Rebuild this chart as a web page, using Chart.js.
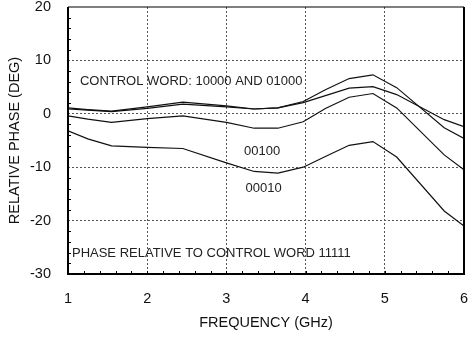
<!DOCTYPE html>
<html>
<head>
<meta charset="utf-8">
<script src="https://cdn.jsdelivr.net/npm/chart.js@4/dist/chart.umd.min.js"></script>
<style>
  html, body { margin: 0; padding: 0; background: #fff; }
  #wrap { width: 474px; height: 337px; }
</style>
</head>
<body>
<div id="wrap"><canvas id="myChart" width="474" height="337"></canvas></div>
<script>
// frequency points (GHz)
const freq = [1.0, 1.25, 1.55, 2.0, 2.45, 3.0, 3.35, 3.65, 3.97, 4.25, 4.55, 4.85, 5.15, 5.75, 6.0];
// relative phase (deg) per control word
const word10000 = [1.1, 0.8, 0.5, 1.3, 2.2, 1.5, 0.9, 1.1, 2.3, 4.5, 6.6, 7.3, 4.9, -2.6, -4.6];
const word01000 = [0.9, 0.7, 0.4, 1.0, 1.8, 1.3, 0.9, 1.1, 2.1, 3.4, 4.8, 5.1, 3.6, -1.1, -2.4];
const word00100 = [-0.4, -1.0, -1.6, -0.9, -0.4, -1.6, -2.7, -2.7, -1.5, 1.0, 3.1, 3.8, 1.1, -7.7, -10.5];
const word00010 = [-3.2, -4.7, -6.0, -6.3, -6.5, -9.2, -10.8, -11.1, -10.0, -8.0, -5.9, -5.2, -8.1, -18.2, -21.0];

const xTicks = [1, 2, 3, 4, 5, 6];
const yTicks = [-30, -20, -10, 0, 10, 20];

// text notes inside the plot: [text, x, y, align]
const notes = [
    ['CONTROL WORD: 10000 AND 01000', 1.15, 6.0, 'left'],
    ['00100', 3.45, -7.1, 'center'],
    ['00010', 3.47, -14.0, 'center'],
    ['PHASE RELATIVE TO CONTROL WORD 11111', 1.05, -26.2, 'left']
];

const font = "'Liberation Sans', Arial, sans-serif";

function toPoints(ys) {
    return freq.map((f, i) => ({ x: f, y: ys[i] }));
}

function lineSet(label, ys) {
    return {
        label: label,
        data: toPoints(ys),
        borderColor: '#111',
        borderWidth: 1.2,
        pointRadius: 0,
        tension: 0,
        fill: false
    };
}

// no extra room for overhanging tick labels
function noOverhang(s) {
    s.paddingTop = 0;
    s.paddingBottom = 0;
    s.paddingLeft = 0;
    s.paddingRight = 0;
}

// frame, minor ticks and text notes
const extras = {
    id: 'extras',
    afterDatasetsDraw(chart) {
        const c = chart.ctx;
        const a = chart.chartArea;
        const xs = chart.scales.x;
        const ys = chart.scales.y;
        c.save();
        c.strokeStyle = '#000';
        // minor ticks, inside
        c.lineWidth = 1;
        for (let v = -28; v < 20; v += 2) {
            if (v % 10 === 0) continue;
            const p = Math.round(ys.getPixelForValue(v)) + 0.5;
            c.beginPath();
            c.moveTo(a.left, p);
            c.lineTo(a.left + 3, p);
            c.stroke();
        }
        for (let v = 1.2; v < 6; v += 0.2) {
            const p = Math.round(xs.getPixelForValue(v)) + 0.5;
            c.beginPath();
            c.moveTo(p, a.bottom);
            c.lineTo(p, a.bottom - 3);
            c.stroke();
        }
        // frame
        c.lineWidth = 1.2;
        c.beginPath();
        c.moveTo(a.left, a.top);
        c.lineTo(a.right, a.top);
        c.stroke();
        c.lineWidth = 2;
        c.beginPath();
        c.moveTo(a.left, a.top);
        c.lineTo(a.left, a.bottom);
        c.lineTo(a.right, a.bottom);
        c.lineTo(a.right, a.top);
        c.stroke();
        // notes
        c.fillStyle = '#222';
        c.font = '13px ' + font;
        c.textBaseline = 'middle';
        notes.forEach(n => {
            c.textAlign = n[3];
            c.fillText(n[0], xs.getPixelForValue(n[1]), ys.getPixelForValue(n[2]));
        });
        c.restore();
    }
};

const config = {
    type: 'line',
    data: {
        datasets: [
            lineSet('10000', word10000),
            lineSet('01000', word01000),
            lineSet('00100', word00100),
            lineSet('00010', word00010)
        ]
    },
    options: {
        responsive: false,
        animation: false,
        layout: { padding: { top: 7, right: 10, left: 0, bottom: 0 } },
        plugins: { legend: { display: false }, tooltip: { enabled: false } },
        scales: {
            x: {
                type: 'linear',
                min: 1,
                max: 6,
                afterBuildTicks: s => { s.ticks = xTicks.map(v => ({ value: v })); },
                afterFit: s => { s.height = 63; noOverhang(s); },
                grid: {
                    color: ctx => (ctx.tick.value === 1 || ctx.tick.value === 6) ? 'transparent' : '#555',
                    lineWidth: 1,
                    drawTicks: false
                },
                border: { display: false, dash: [2, 2] },
                ticks: {
                    padding: 16,
                    color: '#111',
                    maxRotation: 0,
                    font: { family: font, size: 14.5 }
                },
                title: {
                    display: true,
                    text: 'FREQUENCY (GHz)',
                    color: '#111',
                    font: { family: font, size: 14.5 },
                    padding: { top: 0, bottom: 5 }
                }
            },
            y: {
                type: 'linear',
                min: -30,
                max: 20,
                afterBuildTicks: s => { s.ticks = yTicks.map(v => ({ value: v })); },
                afterFit: s => { s.width = 68; noOverhang(s); },
                grid: {
                    color: ctx => (ctx.tick.value === -30 || ctx.tick.value === 20) ? 'transparent' : '#555',
                    lineWidth: 1,
                    drawTicks: false
                },
                border: { display: false, dash: [2, 2] },
                ticks: {
                    padding: 17,
                    color: '#111',
                    font: { family: font, size: 14.5 }
                },
                title: {
                    display: true,
                    text: 'RELATIVE PHASE (DEG)',
                    color: '#111',
                    font: { family: font, size: 14.5 },
                    padding: { top: 6, bottom: 0 }
                }
            }
        }
    },
    plugins: [extras]
};

const ctx = document.querySelector('#myChart').getContext('2d');
window.chart = new Chart(ctx, config);
</script>
</body>
</html>
